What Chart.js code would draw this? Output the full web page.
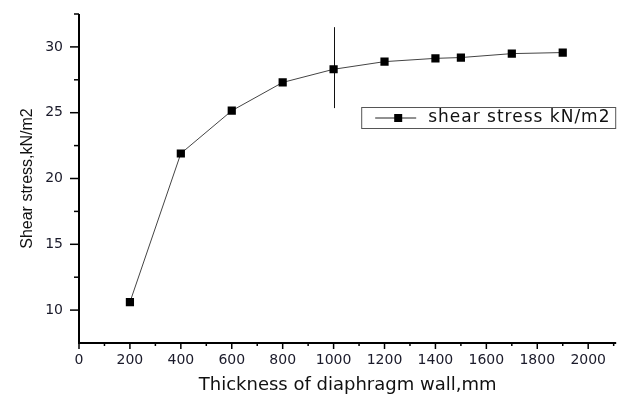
<!DOCTYPE html>
<html>
<head>
<meta charset="utf-8">
<script src="https://cdn.jsdelivr.net/npm/chart.js@4.4.1/dist/chart.umd.min.js"></script>
<style>
  html, body { margin: 0; padding: 0; background: #ffffff; }
  #wrap { width: 622px; height: 396px; position: relative; }
</style>
</head>
<body>
<div id="wrap"><canvas id="c"></canvas></div>
<script>
// ---- data ----
const thickness = [200, 400, 600, 800, 1000, 1200, 1400, 1500, 1700, 1900];
const shearStress = [10.6, 21.9, 25.15, 27.3, 28.3, 28.88, 29.13, 29.19, 29.49, 29.57];
const errorPlus  = [0, 0, 0, 0, 3.2, 0, 0, 0, 0, 0];
const errorMinus = [0, 0, 0, 0, 2.95, 0, 0, 0, 0, 0];
const seriesLabel = 'shear stress kN/m2';
const xTitle = 'Thickness of diaphragm wall,mm';
const yTitle = 'Shear stress,kN/m2';
const xTickValues = [0, 200, 400, 600, 800, 1000, 1200, 1400, 1600, 1800, 2000];
const yTickValues = [10, 15, 20, 25, 30];
const xMinorStep = 100;
const yMinorStep = 2.5;

const points = thickness.map((t, i) => ({ x: t, y: shearStress[i] }));

const errorBarPlugin = {
  id: 'errorBars',
  beforeDatasetsDraw(chart) {
    const ctx = chart.ctx, xs = chart.scales.x, ys = chart.scales.y;
    ctx.save();
    ctx.strokeStyle = '#111';
    ctx.lineWidth = 1;
    thickness.forEach((t, i) => {
      if (!errorPlus[i] && !errorMinus[i]) return;
      const px = Math.round(xs.getPixelForValue(t)) + 0.5;
      ctx.beginPath();
      ctx.moveTo(px, ys.getPixelForValue(shearStress[i] + errorPlus[i]));
      ctx.lineTo(px, ys.getPixelForValue(shearStress[i] - errorMinus[i]));
      ctx.stroke();
    });
    ctx.restore();
  }
};

const axesPlugin = {
  id: 'originAxes',
  afterDraw(chart) {
    const ctx = chart.ctx, xs = chart.scales.x, ys = chart.scales.y;
    const a = chart.chartArea;
    ctx.save();
    ctx.strokeStyle = '#000';
    ctx.lineWidth = 2;
    ctx.beginPath();
    ctx.moveTo(a.left, a.top);
    ctx.lineTo(a.left, a.bottom);
    ctx.lineTo(a.right, a.bottom);
    ctx.stroke();
    ctx.lineWidth = 1.5;
    for (let v = xs.min; v <= xs.max + 1e-9; v += xMinorStep) {
      const px = xs.getPixelForValue(v);
      const major = xTickValues.includes(v);
      ctx.beginPath();
      ctx.moveTo(px, a.bottom);
      ctx.lineTo(px, a.bottom + (major ? 6 : 3));
      ctx.stroke();
    }
    for (let v = yTickValues[0] - yMinorStep; v <= ys.max + 1e-9; v += yMinorStep) {
      if (v <= ys.min) continue;
      const py = ys.getPixelForValue(v);
      const major = yTickValues.includes(v);
      ctx.beginPath();
      ctx.moveTo(a.left, py);
      ctx.lineTo(a.left - (major ? 9 : 5), py);
      ctx.stroke();
    }
    // legend
    const lx = a.right - 255, ly = a.top + 93, lw = 255, lh = 21;
    ctx.lineWidth = 1;
    ctx.strokeStyle = '#555';
    ctx.strokeRect(lx + 0.5, ly + 0.5, lw - 1, lh);
    const cy = ly + lh / 2 + 0.5;
    ctx.strokeStyle = '#222';
    ctx.beginPath();
    ctx.moveTo(lx + 14, cy);
    ctx.lineTo(lx + 55, cy);
    ctx.stroke();
    ctx.fillStyle = '#000';
    ctx.fillRect(lx + 33, cy - 4, 8, 8);
    ctx.fillStyle = '#111';
    ctx.font = '17px "DejaVu Sans"';
    try { ctx.letterSpacing = '1px'; } catch (e) {}
    ctx.textBaseline = 'middle';
    ctx.textAlign = 'left';
    ctx.fillText(seriesLabel, lx + 67, cy);
    ctx.restore();
  }
};

new Chart(document.getElementById('c'), {
  type: 'line',
  data: {
    datasets: [{
      label: seriesLabel,
      data: points,
      borderColor: '#444',
      borderWidth: 1,
      backgroundColor: '#000',
      pointStyle: 'rect',
      pointRadius: 5.8,
      pointBackgroundColor: '#000',
      pointBorderColor: '#000',
      pointBorderWidth: 0,
      tension: 0,
      fill: false
    }]
  },
  options: {
    responsive: true,
    maintainAspectRatio: false,
    animation: false,
    layout: { padding: { top: 14, right: 5, left: 0, bottom: 0 } },
    plugins: {
      legend: { display: false },
      tooltip: { enabled: false }
    },
    scales: {
      x: {
        type: 'linear',
        min: 0,
        max: 2110,
        grid: { display: false, drawTicks: false },
        border: { display: false },
        afterBuildTicks(s) { s.ticks = xTickValues.map(v => ({ value: v })); },
        ticks: {
          autoSkip: false,
          maxRotation: 0,
          padding: 9,
          color: '#1a1a2a',
          font: { family: 'DejaVu Sans', size: 14 },
          callback: v => String(v)
        },
        title: {
          display: true,
          text: xTitle,
          color: '#111',
          font: { family: 'DejaVu Sans', size: 18 },
          padding: { top: 4, bottom: 0 }
        },
        afterFit(s) { s.height = 53; s.paddingLeft = 0; s.paddingRight = 0; }
      },
      y: {
        type: 'linear',
        min: 7.5,
        max: 32.5,
        grid: { display: false, drawTicks: false },
        border: { display: false },
        afterBuildTicks(s) { s.ticks = yTickValues.map(v => ({ value: v })); },
        ticks: {
          autoSkip: false,
          padding: 16,
          color: '#1a1a2a',
          font: { family: 'DejaVu Sans', size: 14 },
          callback: v => String(v)
        },
        title: {
          display: true,
          text: yTitle,
          color: '#111',
          font: { family: 'Liberation Sans', size: 16 },
          padding: { top: 18, bottom: 0 }
        },
        afterFit(s) { s.width = 79; s.paddingTop = 0; s.paddingBottom = 0; }
      }
    }
  },
  plugins: [errorBarPlugin, axesPlugin]
});
</script>
</body>
</html>
